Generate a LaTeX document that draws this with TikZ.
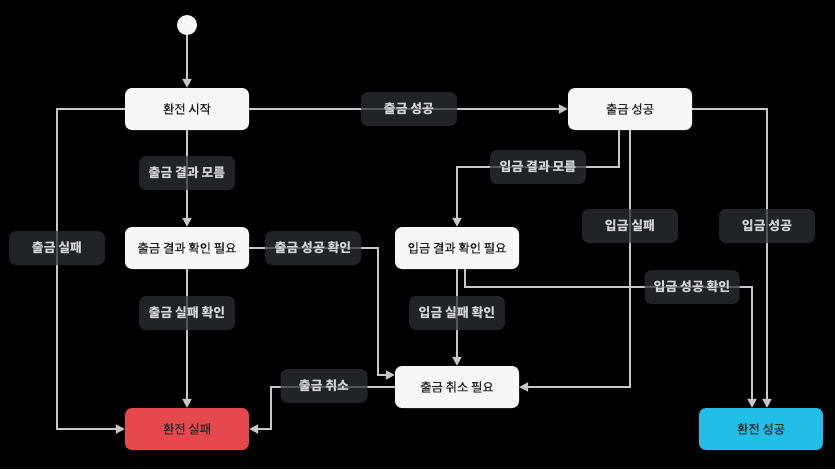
\documentclass[tikz,border=0pt]{standalone}
\usepackage{fontspec}
\setmainfont{Noto Sans CJK KR}
\newfontfamily\medfont[FakeBold=0.5]{Noto Sans CJK KR}
\usetikzlibrary{arrows.meta,calc}
\definecolor{nodewhite}{HTML}{F7F7F7}
\definecolor{failred}{HTML}{E5484D}
\definecolor{okcyan}{HTML}{22BEE8}
\definecolor{lblgray}{HTML}{2E2F33}
\definecolor{lbltext}{HTML}{D4D4D6}
\definecolor{edgegray}{HTML}{C8C8C8}
\definecolor{statetext}{HTML}{222222}
\begin{document}
\begin{tikzpicture}[x=1pt,y=-1pt,
  state/.style={rounded corners=7pt, fill=nodewhite, minimum width=124pt, minimum height=42pt, inner sep=0pt, text=statetext, font=\medfont\fontsize{12.3}{14}\selectfont},
  lbl/.style={rounded corners=7pt, fill=lblgray, fill opacity=0.75, text opacity=1, minimum width=96pt, minimum height=34pt, inner sep=0pt, text=lbltext, font=\bfseries\fontsize{12.8}{14}\selectfont},
  edge/.style={draw=edgegray, line width=2pt, -{Triangle[length=9pt,width=9pt]}}
]
\fill[black] (0,0) rectangle (835,469);
\useasboundingbox (0,0) rectangle (835,469);

% states
\node[circle, fill=nodewhite, minimum size=20pt, inner sep=0pt] (init) at (187,25) {};
\node[state] (st)  at (187,109) {환전 시작};
\node[state] (os)  at (630,109) {출금 성공};
\node[state] (orn) at (187,248) {출금 결과 확인 필요};
\node[state] (irn) at (457,248) {입금 결과 확인 필요};
\node[state] (ocn) at (457,387) {출금 취소 필요};
\node[state, fill=failred, text=black!85] (of) at (187,429) {환전 실패};
\node[state, fill=okcyan, text=black!85] (ss) at (761,429) {환전 성공};

% edges
\draw[edge] (init) -- (st);
\draw[edge] (st) -- (os);
\draw[edge] (st) -- (orn);
\draw[edge] (st.west) -| ($(of.west)+(-68,0)$) -- (of.west);
\draw[edge] (orn) -- (of);
\draw[edge] (orn.east) -| ($(ocn.west)+(-17,-12)$) -- ([yshift=12pt]ocn.west);
\draw[edge] (ocn.west) -| ($(of.east)+(22,0)$) -- (of.east);
\draw[edge] ([xshift=-11pt]os.south) |- ($(irn.north)+(0,-60)$) -- (irn.north);
\draw[edge] (os.south) |- (ocn.east);
\draw[edge] (os.east) -| ([xshift=6pt]ss.north);
\draw[edge] (irn) -- (ocn);
\draw[edge] ([xshift=8pt]irn.south) -- ++(0,18) -| ([xshift=-9pt]ss.north);

% labels
\node[lbl] (l1) at (409,109) {출금 성공};
\node[lbl] (l2) at (187,173) {출금 결과 모름};
\node[lbl] (l3) at (57,248) {출금 실패};
\node[lbl] (l4) at (313,248) {출금 성공 확인};
\node[lbl] (l5) at (538,167) {입금 결과 모름};
\node[lbl] (l6) at (630,226) {입금 실패};
\node[lbl] (l7) at (767,226) {입금 성공};
\node[lbl] (l8) at (187,313) {출금 실패 확인};
\node[lbl] (l9) at (457,313) {입금 실패 확인};
\node[lbl, minimum width=95pt] (l10) at (692,287) {입금 성공 확인};
\node[lbl, minimum width=87pt] (l11) at (324,386) {출금 취소};
\end{tikzpicture}
\end{document}
